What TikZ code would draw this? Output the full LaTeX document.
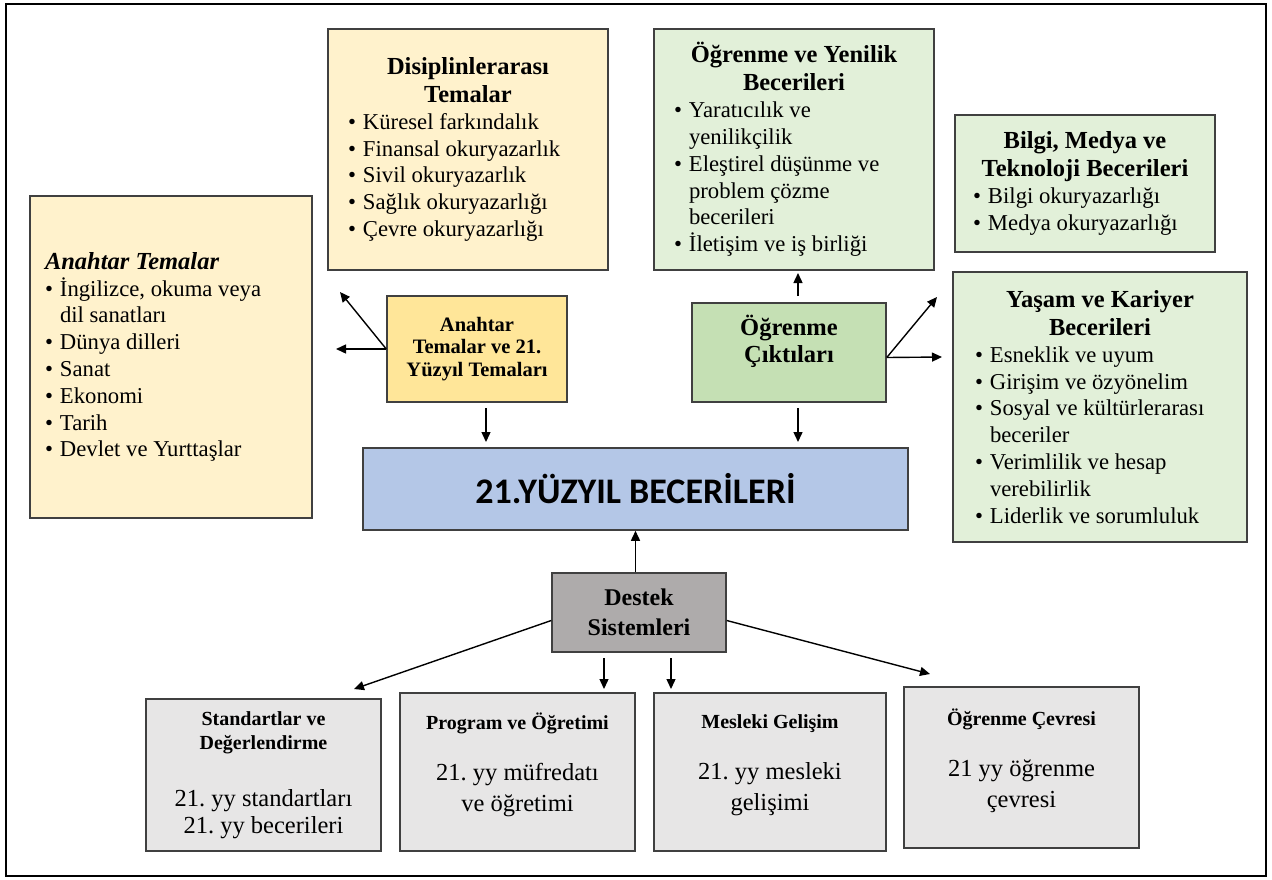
\documentclass[tikz,border=0pt]{standalone}
\usepackage{fontspec}
\setmainfont{Liberation Serif}
\newfontfamily\calfont{Carlito}
\usetikzlibrary{arrows.meta, positioning}
\frenchspacing

\definecolor{cream}{HTML}{FFF2CC}
\definecolor{gold}{HTML}{FFE699}
\definecolor{mint}{HTML}{E2F0D9}
\definecolor{leaf}{HTML}{C5E0B4}
\definecolor{sky}{HTML}{B4C7E7}
\definecolor{stone}{HTML}{AEABAB}
\definecolor{ash}{HTML}{E7E6E6}
\definecolor{edge}{HTML}{404040}

% list item with hanging bullet, and a centred box heading
\newcommand{\blt}[1]{\par\hangindent=15pt\hangafter=1\noindent\makebox[15pt][l]{\textbullet}#1}
\newcommand{\hd}[1]{{\centering\fontsize{24.5}{28}\selectfont\bfseries #1\par}}
\newcommand{\subhd}{\fontsize{20}{24}\selectfont\bfseries}

\tikzset{
  box/.style={draw=edge, line width=1.5pt, inner sep=0pt, align=center},
  listbox/.style={box, align=flush left, inner xsep=20pt, font=\fontsize{22.7}{26.8}\selectfont},
  basebox/.style={box, fill=ash, align=flush center, font=\fontsize{24.5}{31}\selectfont},
  arr/.style={line width=1.4pt, -{Triangle[length=10pt,width=9pt]}}
}

\begin{document}
\begin{tikzpicture}[x=1pt, y=-1pt]
\useasboundingbox (0,0) rectangle (1272,879);
\draw[line width=2.5pt] (6,4) rectangle (1266,876);

% nodes
\node[listbox, fill=cream, inner xsep=15pt, text width=252pt, minimum height=322pt] (anahtar) at (171,357)
  {{\fontsize{24.5}{28}\selectfont\bfseries\itshape Anahtar Temalar\par}
   \blt{İngilizce, okuma veya\newline dil sanatları}
   \blt{Dünya dilleri}
   \blt{Sanat}
   \blt{Ekonomi}
   \blt{Tarih}
   \blt{Devlet ve Yurttaşlar}};

\node[listbox, fill=cream, text width=240pt, minimum height=241pt] (disiplin) at (468,149.5)
  {\hd{Disiplinlerarası\\Temalar}
   \blt{Küresel farkındalık}
   \blt{Finansal okuryazarlık}
   \blt{Sivil okuryazarlık}
   \blt{Sağlık okuryazarlığı}
   \blt{Çevre okuryazarlığı}};

\node[listbox, fill=mint, text width=240pt, minimum height=241pt] (yenilik) at (794,149.5)
  {\hd{Öğrenme ve Yenilik\\Becerileri}
   \blt{Yaratıcılık ve\newline yenilikçilik}
   \blt{Eleştirel düşünme ve\newline problem çözme\newline becerileri}
   \blt{İletişim ve iş birliği}};

\node[listbox, fill=mint, inner xsep=18pt, text width=224pt, minimum height=137pt] (bilgi) at (1085,183.5)
  {\hd{Bilgi, Medya ve\\Teknoloji Becerileri}
   \blt{Bilgi okuryazarlığı}
   \blt{Medya okuryazarlığı}};

\node[listbox, fill=mint, inner xsep=22pt, text width=250pt, minimum height=270pt] (yasam) at (1100,407)
  {\hd{Yaşam ve Kariyer\\Becerileri}
   \blt{Esneklik ve uyum}
   \blt{Girişim ve özyönelim}
   \blt{Sosyal ve kültürlerarası\newline beceriler}
   \blt{Verimlilik ve hesap\newline verebilirlik}
   \blt{Liderlik ve sorumluluk}};

\node[box, fill=gold, minimum width=180pt, minimum height=106pt,
  font=\fontsize{20.5}{22.5}\selectfont\bfseries] (temalar21) at (477,349)
  {Anahtar\\Temalar ve 21.\\Yüzyıl Temaları};

\node[box, fill=leaf, minimum width=194pt, minimum height=99pt,
  font=\fontsize{24.5}{27}\selectfont\bfseries] (ciktilar) at (789,352.5)
  {Öğrenme\\Çıktıları\\~};

\node[box, fill=sky, minimum width=545pt, minimum height=82pt,
  font=\calfont\fontsize{36}{40}\selectfont\bfseries] (beceriler) at (635.5,489)
  {21.YÜZYIL BECERİLERİ};

\node[box, fill=stone, minimum width=174pt, minimum height=79pt,
  font=\fontsize{24}{30}\selectfont\bfseries] (destek) at (639,612.5)
  {Destek\\Sistemleri};

\node[basebox, text width=235pt, minimum height=152pt, font=\fontsize{24.5}{27}\selectfont] (standart) at (263.5,775)
  {{\subhd Standartlar ve\\Değerlendirme\par}\vspace{30pt}
   21. yy standartları\\21. yy becerileri};

\node[basebox, text width=235pt, minimum height=158pt] (program) at (517.5,772)
  {{\subhd Program ve Öğretimi\par}\vspace{20pt}
   21. yy müfredatı\\ve öğretimi\par\vspace{-12pt}\mbox{}};

\node[basebox, text width=232pt, minimum height=158pt] (mesleki) at (770,772)
  {{\subhd Mesleki Gelişim\par}\vspace{20pt}
   21. yy mesleki\\gelişimi\par\vspace{-12pt}\mbox{}};

\node[basebox, text width=235pt, minimum height=161pt] (cevre) at (1021.5,767.5)
  {{\subhd Öğrenme Çevresi\par}\vspace{20pt}
   21 yy öğrenme\\çevresi\par\vspace{-12pt}\mbox{}};

% free arrow ends
\coordinate (t21ul) at (340,292);
\coordinate (t21l) at (336,349);
\coordinate (t21a) at (486,408);
\coordinate (t21b) at (486,442);
\coordinate (cku) at (798,296);
\coordinate (ckv) at (798,273);
\coordinate (cka) at (798,408);
\coordinate (ckb) at (798,442);
\coordinate (ckur) at (937,297);
\coordinate (ckr) at (942,357);
\coordinate (dsl) at (354,689);
\coordinate (dsr) at (930,674);
\coordinate (dp1) at (604,658);
\coordinate (dp2) at (604,689);
\coordinate (dm1) at (671,658);
\coordinate (dm2) at (671,689);

% arrows
\draw[arr] (temalar21.west) -- (t21ul);
\draw[arr] (temalar21.west) -- (t21l);
\draw[arr] (t21a) -- (t21b);

\draw[arr] (cku) -- (ckv);
\draw[arr] (cka) -- (ckb);
\draw[arr] ([yshift=-5pt]ciktilar.east) -- (ckur);
\draw[arr] ([yshift=-5pt]ciktilar.east) -- (ckr);

\draw[arr] (destek.north -| beceriler.south) -- (beceriler.south);
\draw[arr] ([yshift=-8pt]destek.west) -- (dsl);
\draw[arr] ([yshift=-8pt]destek.east) -- (dsr);
\draw[arr] (dp1) -- (dp2);
\draw[arr] (dm1) -- (dm2);

\end{tikzpicture}
\end{document}
